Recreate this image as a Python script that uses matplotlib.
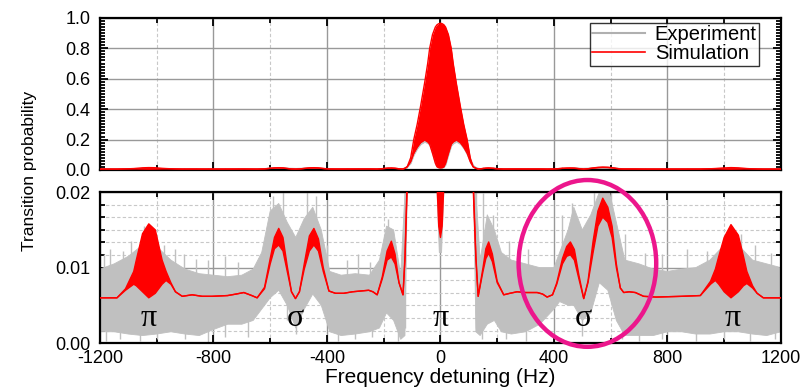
import numpy as np
import matplotlib
matplotlib.use("Agg")
import matplotlib.pyplot as plt
from matplotlib.patches import Ellipse
from matplotlib.ticker import MultipleLocator

plt.rcParams['font.family'] = ['Liberation Sans', 'DejaVu Sans']
plt.rcParams['axes.unicode_minus'] = False

# simulation (red): lower / upper envelope of the fast oscillation
sim_f = [-1200, -1140, -1110, -1081, -1072, -1050, -1028, -1005, -981, -967, -950, -934, -910,
         -875, -840, -805, -750, -720, -693, -665, -646, -620, -600, -585, -570, -555, -540, -525,
         -511, -497, -480, -462, -446, -430, -413, -393, -370, -341, -310, -282, -253, -238, -223,
         -205, -188, -173, -160, -146, -132, -125, -117, -105, -94, -82, -70, -56, -45, -38, -28,
         -18, -12, -6, 0, 6, 12, 18, 28, 38, 45, 56, 70, 82, 94, 105, 115, 125, 133, 150, 160,
         170, 183, 200, 223, 245, 270, 300, 341, 360, 376, 395, 410, 430, 445, 458, 472, 488, 505,
         520, 538, 555, 572, 590, 605, 620, 634, 646, 665, 687, 716, 760, 850, 916, 952, 969, 981,
         1000, 1024, 1050, 1068, 1080, 1100, 1116, 1138, 1200]
sim_lo = [0.0060, 0.0060, 0.0070, 0.0078, 0.0076, 0.0068, 0.0060, 0.0066, 0.0078, 0.0083, 0.0078, 0.0068, 0.0062,
          0.0064, 0.0062, 0.0062, 0.0063, 0.0065, 0.0067, 0.0063, 0.0060, 0.0072, 0.0105, 0.0125, 0.0130, 0.0122, 0.0095, 0.0068,
          0.0059, 0.0068, 0.0098, 0.0122, 0.0130, 0.0122, 0.0095, 0.0069, 0.0066, 0.0066, 0.0068, 0.0069, 0.0070, 0.0068, 0.0064,
          0.0085, 0.0110, 0.0114, 0.0105, 0.0080, 0.0064, 0.0110, 0.0210, 0.055, 0.110, 0.150, 0.180, 0.197, 0.185, 0.170, 0.110,
          0.045, 0.021, 0.0155, 0.0140, 0.0155, 0.021, 0.045, 0.110, 0.170, 0.185, 0.197, 0.180, 0.150, 0.110, 0.055, 0.0210, 0.0110, 0.0062, 0.0095, 0.0112,
          0.0119, 0.0108, 0.0080, 0.0064, 0.0066, 0.0068, 0.0067, 0.0067, 0.0065, 0.0061, 0.0064, 0.0078, 0.0105, 0.0115, 0.0117, 0.0110, 0.0085, 0.0059,
          0.0080, 0.0120, 0.0155, 0.0167, 0.0160, 0.0140, 0.0100, 0.0073, 0.0067, 0.0068, 0.0067, 0.0062, 0.0061, 0.0062, 0.0063, 0.0078, 0.0083, 0.0078,
          0.0068, 0.0060, 0.0068, 0.0076, 0.0079, 0.0073, 0.0066, 0.0060, 0.0060]
sim_hi = [0.0060, 0.0060, 0.0072, 0.0095, 0.0110, 0.0145, 0.0158, 0.0150, 0.0110, 0.0095, 0.0080, 0.0068, 0.0062,
          0.0064, 0.0062, 0.0062, 0.0063, 0.0065, 0.0067, 0.0063, 0.0060, 0.0074, 0.0112, 0.0140, 0.0152, 0.0140, 0.0102, 0.0068,
          0.0059, 0.0068, 0.0105, 0.0142, 0.0152, 0.0138, 0.0100, 0.0069, 0.0066, 0.0066, 0.0068, 0.0069, 0.0070, 0.0068, 0.0064,
          0.0088, 0.0122, 0.0135, 0.0118, 0.0080, 0.0064, 0.0115, 0.0220, 0.080, 0.200, 0.300, 0.420, 0.570, 0.700, 0.800, 0.890,
          0.940, 0.955, 0.962, 0.965, 0.962, 0.955, 0.940, 0.890, 0.800, 0.700, 0.570, 0.420, 0.300, 0.200, 0.080, 0.0220, 0.0115, 0.0062, 0.0100, 0.0125,
          0.0134, 0.0118, 0.0082, 0.0064, 0.0066, 0.0068, 0.0067, 0.0067, 0.0065, 0.0061, 0.0064, 0.0080, 0.0112, 0.0128, 0.0134, 0.0124, 0.0090, 0.0059,
          0.0082, 0.0135, 0.0175, 0.0192, 0.0180, 0.0155, 0.0105, 0.0073, 0.0067, 0.0068, 0.0067, 0.0062, 0.0061, 0.0062, 0.0063, 0.0082, 0.0098, 0.0115,
          0.0140, 0.0157, 0.0143, 0.0115, 0.0095, 0.0076, 0.0066, 0.0060, 0.0060]

# experiment (grey): spread of the noisy measurement
exp_f = [-1200, -1150, -1100, -1050, -1000, -950, -900, -850, -800, -750, -700, -660, -630, -600, -570,
         -540, -510, -480, -450, -420, -390, -350, -300, -250, -215, -190, -165, -140, -125, -117, -105,
         -94, -82, -70, -56, -45, -38, -28, -18, -12, -4, 0, 4, 12, 18, 28, 38, 45, 56, 70, 82, 94, 105,
         117, 125, 140, 165, 190, 215, 250, 300, 350, 400, 420, 450, 470, 500, 530, 560, 590, 620, 650,
         700, 750, 800, 850, 900, 950, 1000, 1050, 1100, 1150, 1200]
exp_lo = [0.0015, 0.0015, 0.0012, 0.0010, 0.0012, 0.0015, 0.0012, 0.0010, 0.0018, 0.0025, 0.0025, 0.0030, 0.0045, 0.0060, 0.0070,
          0.0050, 0.0020, 0.0045, 0.0065, 0.0050, 0.0015, 0.0010, 0.0012, 0.0015, 0.0020, 0.0040, 0.0030, 0.0005, 0.0010, 0.0200, 0.045,
          0.100, 0.140, 0.170, 0.185, 0.175, 0.160, 0.100, 0.035, 0.020, 0.012, 0.012, 0.012, 0.020, 0.035, 0.100, 0.160, 0.175, 0.185, 0.170, 0.140, 0.100, 0.045,
          0.0200, 0.0015, 0.0010, 0.0025, 0.0030, 0.0015, 0.0012, 0.0015, 0.0025, 0.0045, 0.0055, 0.0050, 0.0050, 0.0030, 0.0040, 0.0080, 0.0070, 0.0030, 0.0010,
          0.0010, 0.0010, 0.0015, 0.0015, 0.0012, 0.0012, 0.0015, 0.0015, 0.0012, 0.0010, 0.0015]
exp_hi = [0.0098, 0.0105, 0.0115, 0.0130, 0.0128, 0.0110, 0.0098, 0.0092, 0.0090, 0.0088, 0.0090, 0.0098, 0.0120, 0.0175, 0.0185,
          0.0160, 0.0140, 0.0165, 0.0180, 0.0150, 0.0095, 0.0090, 0.0092, 0.0090, 0.0110, 0.0155, 0.0150, 0.0090, 0.0200, 0.0300, 0.070,
          0.120, 0.160, 0.190, 0.205, 0.195, 0.180, 0.120, 0.050, 0.030, 0.016, 0.015, 0.016, 0.030, 0.050, 0.120, 0.180, 0.195, 0.205, 0.190, 0.160, 0.120, 0.070,
          0.0300, 0.0200, 0.0110, 0.0170, 0.0150, 0.0120, 0.0110, 0.0105, 0.0100, 0.0100, 0.0120, 0.0150, 0.0180, 0.0150, 0.0170, 0.0200, 0.0210, 0.0160, 0.0110,
          0.0105, 0.0098, 0.0095, 0.0098, 0.0100, 0.0110, 0.0130, 0.0130, 0.0110, 0.0105, 0.0100]

# single noise spikes of the measurement
spike_f = [-1185, -1163, -1120, -1090, -1045, -1010, -975, -935, -905, -860, -820, -760, -715, -590, -555,
           -470, -440, -400, -330, -290, -250, -185, -125, 125, 150, 185, 240, 310, 430, 465, 540, 580,
           600, 650, 720, 780, 870, 940, 1000, 1060, 1110, 1165,
           -1180, -1130, -1060, -1000, -900, -820, -760, -680, -540, -510, -360, -300, -240, -150, 145,
           230, 300, 500, 640, 700, 780, 900, 1000, 1090, 1180]
spike_lo = [0.004, 0.004, 0.004, 0.005, 0.006, 0.006, 0.005, 0.004, 0.004, 0.004, 0.004, 0.004, 0.004, 0.008, 0.008,
            0.008, 0.008, 0.005, 0.004, 0.004, 0.004, 0.006, 0.002, 0.002, 0.006, 0.006, 0.004, 0.004, 0.006, 0.006, 0.008, 0.010,
            0.010, 0.004, 0.004, 0.004, 0.004, 0.004, 0.006, 0.006, 0.004, 0.004,
            0.0003, 0.0005, 0.0003, 0.0005, 0.0005, 0.0002, 0.0008, 0.0008, 0.0030, 0.0012, 0.0003, 0.0005, 0.0008, 0.0003, 0.0005,
            0.0005, 0.0003, 0.0010, 0.0005, 0.0003, 0.0005, 0.0003, 0.0005, 0.0003, 0.0005]
spike_hi = [0.0118, 0.0125, 0.0122, 0.0135, 0.0155, 0.0145, 0.0130, 0.0125, 0.0118, 0.0112, 0.0110, 0.0115, 0.0108, 0.0195, 0.0200,
            0.0200, 0.0195, 0.0130, 0.0110, 0.0118, 0.0108, 0.0165, 0.0200, 0.0200, 0.0199, 0.0170, 0.0135, 0.0125, 0.0170, 0.0185, 0.0200, 0.0220,
            0.0215, 0.0145, 0.0120, 0.0118, 0.0125, 0.0122, 0.0140, 0.0145, 0.0130, 0.0120,
            0.004, 0.004, 0.004, 0.004, 0.004, 0.004, 0.004, 0.004, 0.006, 0.005, 0.004, 0.004, 0.004, 0.004, 0.004,
            0.004, 0.004, 0.005, 0.004, 0.004, 0.004, 0.004, 0.004, 0.004, 0.004]

# transition labels
lab_f = [-1030, -510, 0, 505, 1030]
lab_txt = ['π', 'σ', 'π', 'σ', 'π']

grey = '#c0c0c0'
red = '#ff0000'

fig = plt.figure(figsize=(8.03, 3.89), dpi=100)
ax1 = fig.add_axes([0.1245, 0.563, 0.848, 0.391])
ax2 = fig.add_axes([0.1245, 0.118, 0.848, 0.388])

for ax in (ax1, ax2):
    ax.fill_between(exp_f, exp_lo, exp_hi, color=grey, lw=0.6, zorder=2)
    ax.vlines(spike_f, spike_lo, spike_hi, color=grey, lw=1.0, zorder=2)
    ax.fill_between(sim_f, sim_lo, sim_hi, color=red, lw=0, zorder=3)
    ax.plot(sim_f, sim_lo, color=red, lw=1.0, zorder=3)
    ax.plot(sim_f, sim_hi, color=red, lw=1.0, zorder=3)
    ax.set_xlim(-1200, 1200)
    ax.xaxis.set_major_locator(MultipleLocator(400))
    ax.xaxis.set_minor_locator(MultipleLocator(200))
    ax.grid(which='major', axis='x', color='#999999', lw=1.0, zorder=0)
    ax.grid(which='minor', axis='x', color='#c8c8c8', lw=0.8, ls=(0, (3, 2)), zorder=0)
    ax.tick_params(which='both', direction='in', top=True, right=True, labelsize=13, width=1.3)
    ax.tick_params(which='major', length=6)
    ax.tick_params(which='minor', length=3.5)
    ax.tick_params(axis='x', which='major', pad=5)
    ax.tick_params(axis='y', which='major', pad=7)
    for s in ax.spines.values():
        s.set_linewidth(1.6)
    ax.set_axisbelow(True)

# top panel
ax1.set_ylim(0, 1.0)
ax1.yaxis.set_major_locator(MultipleLocator(0.2))
ax1.yaxis.set_minor_locator(MultipleLocator(0.02))
ax1.yaxis.set_major_formatter('{x:.1f}')
ax1.grid(which='major', axis='y', color='#999999', lw=1.0, zorder=0)
ax1.tick_params(labelbottom=False)
ax1.plot([], [], color='#b0b0b0', lw=1.5, label='Experiment')
ax1.plot([], [], color=red, lw=1.2, label='Simulation')
leg = ax1.legend(loc='upper right', bbox_to_anchor=(0.968, 0.968), borderaxespad=0,
                 fontsize=14.5, frameon=True, fancybox=False, edgecolor='black',
                 handlelength=2.6, handletextpad=0.5, borderpad=0.12, labelspacing=0.0)
leg.get_frame().set_linewidth(1.0)

# bottom panel
ax2.set_ylim(0, 0.02)
ax2.yaxis.set_major_locator(MultipleLocator(0.01))
ax2.yaxis.set_minor_locator(MultipleLocator(0.01 / 6))
ax2.yaxis.set_major_formatter('{x:.2f}')
ax2.grid(which='major', axis='y', color='#999999', lw=1.0, zorder=0)
ax2.grid(which='minor', axis='y', color='#c8c8c8', lw=0.8, ls=(0, (3, 2)), zorder=0)
ax2.set_xlabel('Frequency detuning (Hz)', fontsize=15, labelpad=1)
for f, t in zip(lab_f, lab_txt):
    ax2.text(f, 0.0033, t, fontsize=23, ha='center', va='center',
             family=['Liberation Serif', 'DejaVu Serif'], zorder=6)

ax2.add_patch(Ellipse((518, 0.01056), 485, 0.0221, fill=False, edgecolor='#ec168c',
                      lw=3.2, clip_on=False, zorder=7))

fig.text(0.037, 0.56, 'Transition probability', rotation=90, fontsize=12.5,
         ha='center', va='center')

fig.savefig('out.png', dpi=100)
